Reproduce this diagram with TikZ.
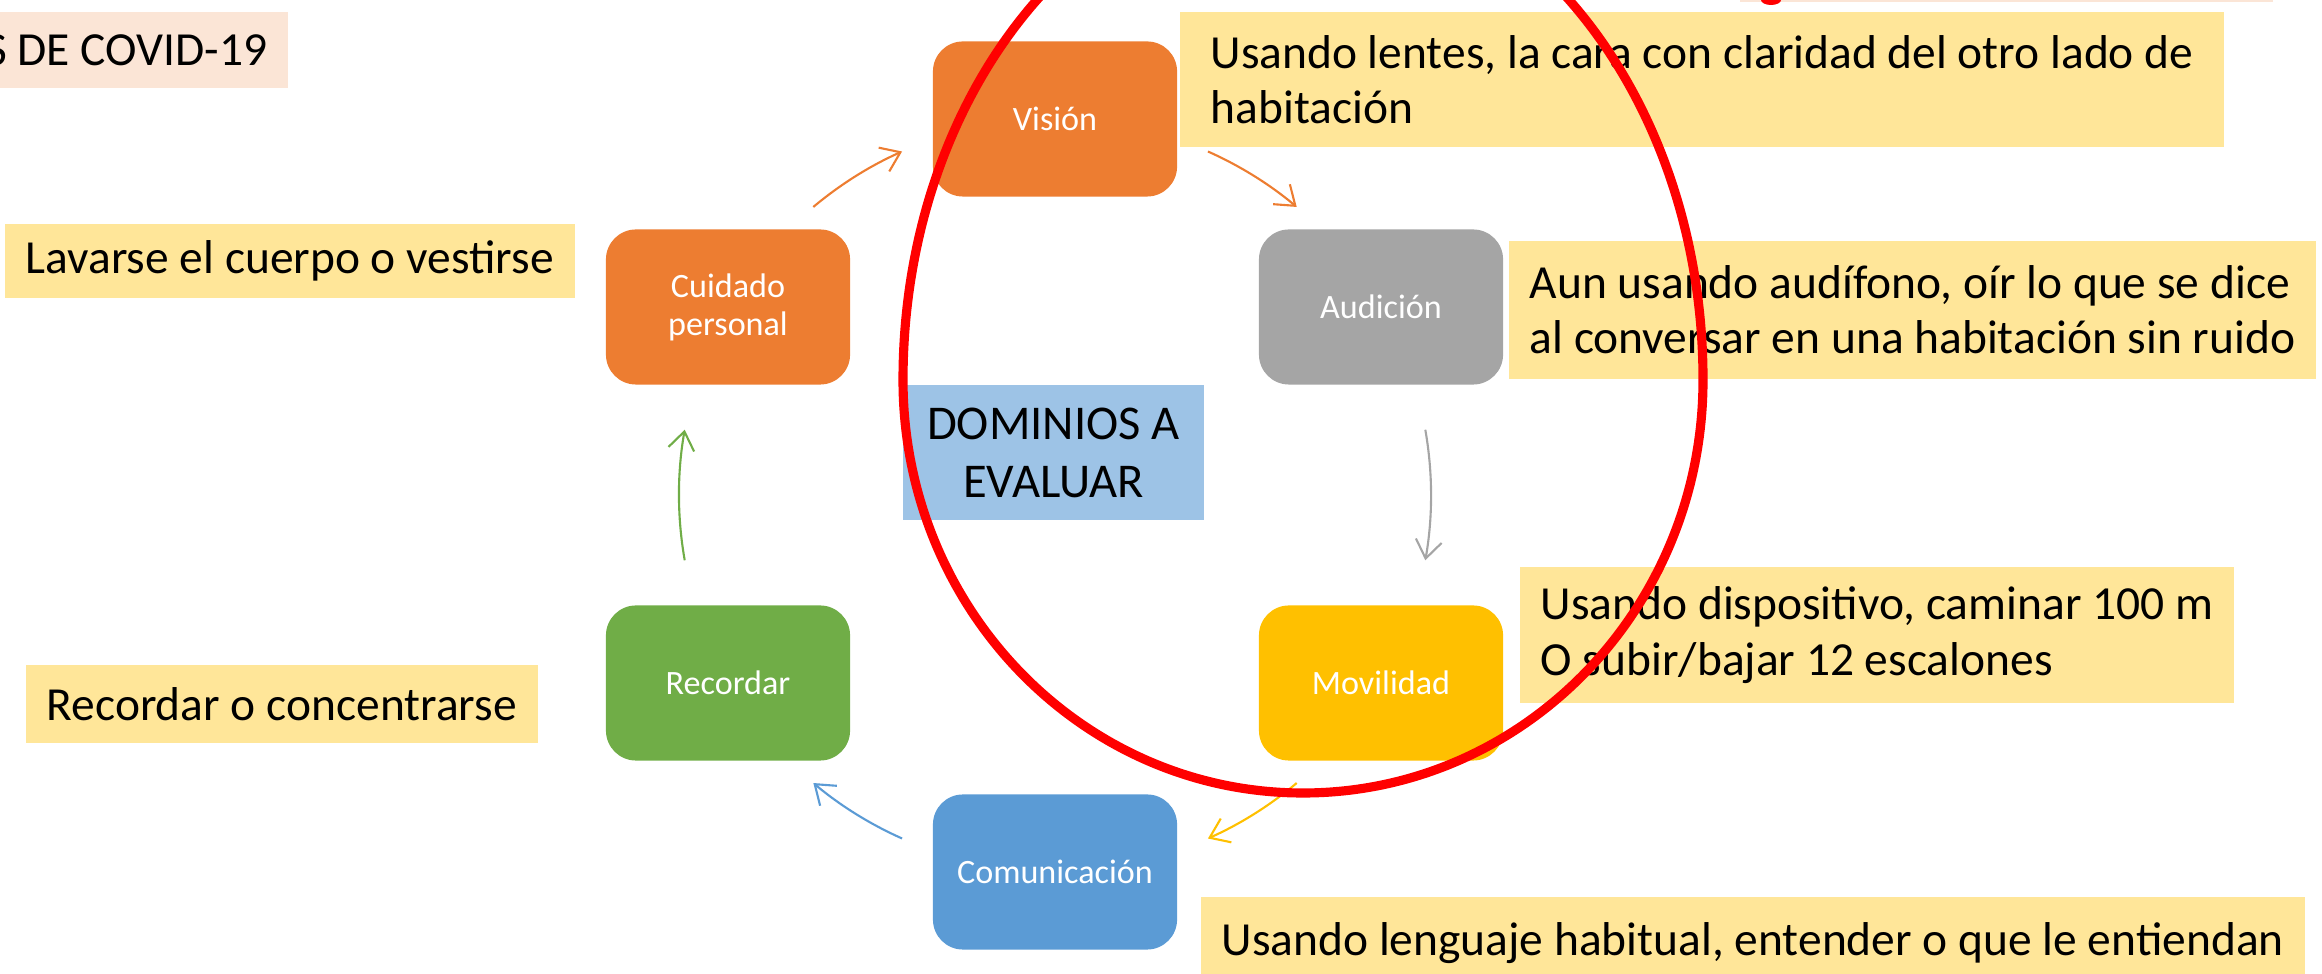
\documentclass[tikz,border=0pt]{standalone}
\usepackage{fontspec}
\setmainfont{Carlito}
\usetikzlibrary{arrows.meta}

\definecolor{boxorange}{HTML}{ED7D31}
\definecolor{boxgray}{HTML}{A5A5A5}
\definecolor{boxyellow}{HTML}{FFC000}
\definecolor{boxblue}{HTML}{5B9BD5}
\definecolor{boxgreen}{HTML}{70AD47}
\definecolor{notefill}{HTML}{FFE699}
\definecolor{titlefill}{HTML}{FBE5D6}
\definecolor{centerfill}{HTML}{9DC3E6}
\definecolor{ringred}{HTML}{FF0000}

\begin{document}
\begin{tikzpicture}[x=0.01cm, y=0.01cm,
        dombox/.style={fill=#1, rounded corners=0.3cm, minimum width=2.44cm, minimum height=1.55cm,
                text=white, align=center, font=\fontsize{9.7}{10.8}\selectfont},
        notebox/.style={fill=notefill, anchor=west, align=left, inner xsep=0.21cm, inner ysep=0pt,
                font=\fontsize{13.5}{15.7}\selectfont},
        cyclearrow/.style={draw=#1, line width=0.6pt, -{Straight Barb[length=1.8mm, width=2.6mm]}},
        ring/.style={draw=ringred, line width=2.6pt}]
        \useasboundingbox (0,0) rectangle (2322,973);
        \clip (0,0) rectangle (2322,973);

        % title strips
        \node[notebox, fill=titlefill, anchor=east, minimum height=0.76cm] (covid) at (289,923) {S DE COVID-19};
        \fill[titlefill] (1740,971) rectangle (2273,985);

        % the six domains
        \foreach \nm/\x/\y/\c/\t in {vision/1055/854/boxorange/Visión,
                        audicion/1381/666/boxgray/Audición,
                        movilidad/1381/290/boxyellow/Movilidad,
                        comunicacion/1055/101/boxblue/Comunicación,
                        recordar/728/290/boxgreen/Recordar,
                        cuidado/728/666/boxorange/{Cuidado\\personal}} {
                \node[dombox=\c] (\nm) at (\x,\y) {\t};
            }

        \node[fill=centerfill, minimum width=3.01cm, minimum height=1.35cm, align=center,
            font=\fontsize{13.8}{16.5}\selectfont] (dominios) at (1053.5,520.5) {DOMINIOS A\\EVALUAR};

        % notes
        \node[notebox, minimum width=10.44cm, minimum height=1.35cm] (lentes) at (1179,893.5)
            {Usando lentes, la cara con claridad del otro lado de\\habitación};
        \node[notebox, minimum height=1.38cm] (audifono) at (1508,663)
            {Aun usando audífono, oír lo que se dice\\al conversar en una habitación sin ruido};
        \node[notebox, minimum height=1.36cm] (dispositivo) at (1519,338)
            {Usando dispositivo, caminar 100 m\\O subir/bajar 12 escalones};
        \node[notebox, minimum height=0.93cm] (lenguaje) at (1200,29.5)
            {Usando lenguaje habitual, entender o que le entiendan};
        \node[notebox, minimum height=0.74cm] (lavarse) at (4,712) {Lavarse el cuerpo o vestirse};
        \node[notebox, minimum height=0.78cm] (concentrarse) at (25,269) {Recordar o concentrarse};

        % cycle arrows
        \coordinate (hub) at (1055,478);
        \foreach \a/\b/\c in {130/114/boxorange, 66/50/boxorange, 10/-10/boxgray,
                        -50/-66/boxyellow, -114/-130/boxblue, 190/170/boxgreen} {
                \draw[cyclearrow=\c] ([shift={(\a:376)}]hub) arc[start angle=\a, end angle=\b, radius=376];
            }

        % red marks
        \draw[ring] (1703,593) arc[start angle=0, end angle=180, x radius=400, y radius=509]
            arc[start angle=180, end angle=360, x radius=400, y radius=413] -- cycle;
        \fill[ringred] (1771,973) ellipse [x radius=10, y radius=5];
    \end{tikzpicture}
\end{document}
